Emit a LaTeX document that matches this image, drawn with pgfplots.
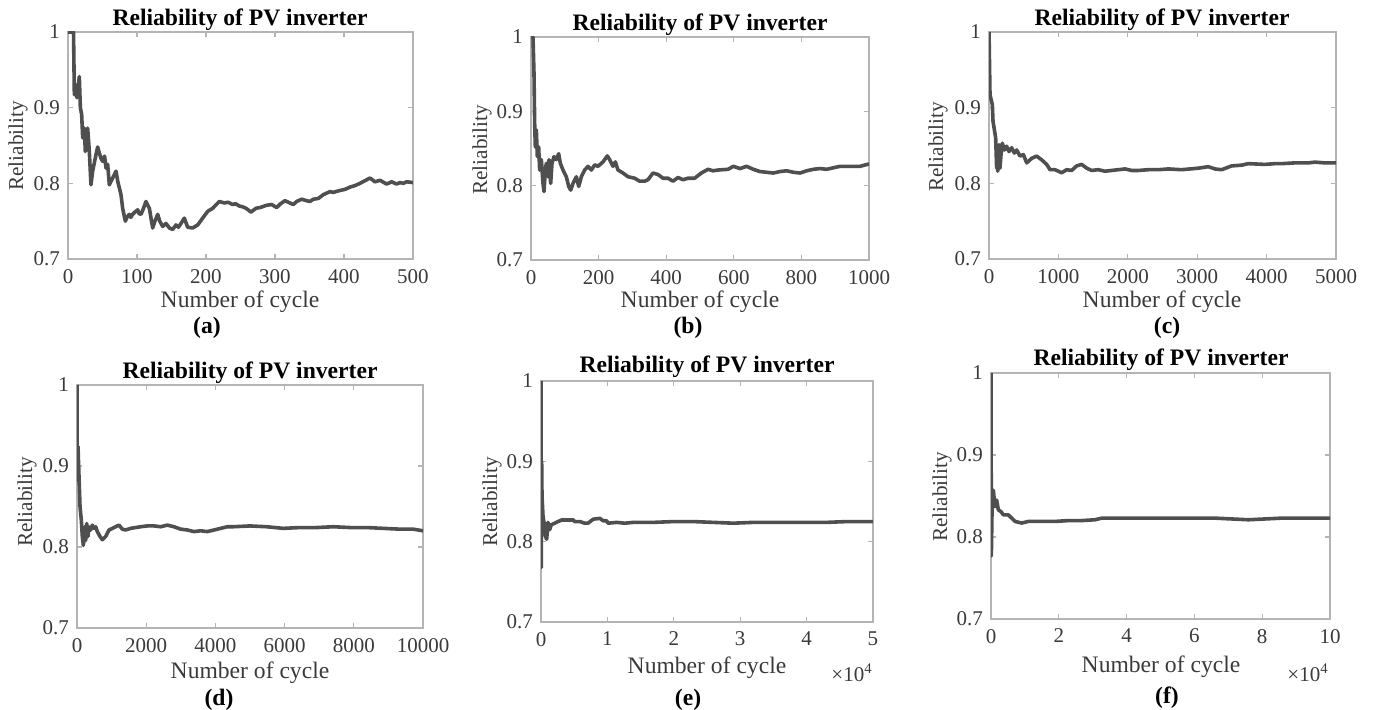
\documentclass[border=0pt]{standalone}
\usepackage{fontspec}
\setmainfont{Liberation Serif}
\usepackage{pgfplots}
\pgfplotsset{compat=1.18}

\definecolor{linegray}{HTML}{4F4F4F}
\definecolor{boxgray}{HTML}{B4B4B4}
\definecolor{labgray}{HTML}{3A3A3A}

\newcommand{\ticksize}{\fontsize{10.5}{11}\selectfont}
\newcommand{\labsize}{\fontsize{11.8}{12}\selectfont}

\pgfplotsset{
  rel/.style={
    scale only axis, anchor=south west,
    xmin=0, ymin=0.7, ymax=1, scaled x ticks=false,
    ytick={0.7,0.8,0.9,1}, yticklabels={0.7,0.8,0.9,1},
    axis line style={draw=boxgray, line width=0.7pt},
    tick style={draw=boxgray, line width=0.6pt},
    tick align=inside, tick pos=both, major tick length=2.5pt,
    ticklabel style={font=\ticksize, text=labgray},
    xticklabel style={yshift=-1.5pt},
    yticklabel style={xshift=-0.5pt},
    every axis plot post/.append style={line width=1.8pt, color=linegray, line join=round, mark=none},
  },
}

\begin{document}
\begin{tikzpicture}
\path[use as bounding box] (0pt,0pt) rectangle (687.5pt,355pt);

% (a) 0..500
\begin{axis}[rel, at={(34pt,225.5pt)}, width=172.5pt, height=113.5pt,
  xmax=500, xtick={0,100,...,500}, xticklabels={0,100,200,300,400,500}]
\addplot coordinates {
(0,1.000)(2,1.000)(8,1.000)(9.2,0.917)(11.6,0.930)(13.0,0.913)(16.4,0.941)
(17.9,0.900)(19.8,0.891)(21.3,0.860)(23.7,0.873)(25.1,0.842)(27.1,0.856)
(28.5,0.873)(30.9,0.842)(33.3,0.798)(35.7,0.816)(40.6,0.838)(43,0.848)(45.4,0.840)
(47.8,0.833)(50.2,0.829)(53,0.836)(55.1,0.820)(57.5,0.825)(59.9,0.798)(64.7,0.807)
(69.6,0.816)(72.0,0.803)(76.8,0.785)(79.2,0.767)(83.1,0.750)(86,0.756)(88.9,0.759)
(91,0.755)(93.7,0.759)(97,0.762)(101.0,0.765)(103,0.760)(105.8,0.759)(109,0.766)
(113.0,0.776)(117.9,0.767)(122.7,0.741)(126,0.750)(130.0,0.759)(133,0.750)
(137.2,0.743)(142.0,0.747)(146.9,0.741)(151.7,0.739)(156.5,0.745)(160,0.742)
(163.8,0.747)(168.6,0.754)(173.4,0.742)(180.7,0.741)(188.0,0.745)(195.2,0.754)
(202.5,0.763)(209.7,0.767)(219.3,0.776)(226.6,0.774)(232,0.775)(238.6,0.772)
(243,0.773)(248.3,0.770)(253,0.769)(258.0,0.767)(265.2,0.762)(272.5,0.767)
(278.3,0.768)(288,0.771)(295.2,0.772)(302.4,0.768)(308,0.773)(314.5,0.777)
(321.7,0.774)(326.6,0.772)(331.4,0.776)(338.6,0.779)(345.9,0.777)(350.7,0.776)
(355.6,0.779)(362.8,0.780)(370,0.785)(379.7,0.789)(384.5,0.788)(391.8,0.790)
(401.4,0.792)(408.7,0.795)(416,0.797)(423.2,0.800)(437.7,0.807)(444.9,0.802)
(452.2,0.804)(461.8,0.799)(469.1,0.802)(476.3,0.799)(481.2,0.801)(486,0.800)
(490.8,0.802)(500,0.801)};
\end{axis}

% (b) 0..1000
\begin{axis}[rel, at={(265.5pt,225pt)}, width=169pt, height=111.5pt,
  xmax=1000, xtick={0,200,...,1000}, xticklabels={0,200,400,600,800,1000}]
\addplot coordinates {
(0,1.000)(5.9,1.000)(8.9,0.950)(10.8,0.884)(12.8,0.852)(15.8,0.875)(18.7,0.839)
(22.7,0.852)(25.6,0.821)(30.6,0.835)(35.5,0.803)(38.5,0.792)(42.4,0.821)
(45.4,0.830)(50.3,0.812)(53.3,0.835)(58.2,0.803)(62.1,0.830)(68.0,0.839)
(75.0,0.835)(81.9,0.843)(86.8,0.830)(94.7,0.821)(104.5,0.812)(111.5,0.799)
(117.4,0.794)(124.3,0.803)(134.2,0.812)(141.1,0.799)(149,0.812)(158.8,0.821)
(168.6,0.826)(178.5,0.821)(188.4,0.828)(198.2,0.826)(213,0.832)(225.8,0.840)
(232.7,0.835)(242.6,0.826)(249.5,0.832)(257.4,0.821)(272.2,0.817)(287,0.812)
(306.7,0.810)(321.5,0.806)(336.3,0.806)(346.2,0.808)(361,0.817)(375.7,0.815)
(390.5,0.810)(405.3,0.810)(420.1,0.806)(434.9,0.811)(449.7,0.808)(464.5,0.810)
(484.2,0.810)(503.9,0.817)(523.7,0.822)(538.5,0.820)(553.3,0.821)(582.8,0.822)
(598.7,0.826)(618.4,0.823)(638.1,0.826)(657.8,0.822)(677.5,0.819)(697.2,0.818)
(717,0.817)(736.7,0.819)(756.4,0.820)(776.1,0.818)(795.9,0.817)(815.6,0.820)
(835.3,0.822)(855,0.823)(874.8,0.822)(894.5,0.824)(914.2,0.826)(933.9,0.826)
(953.7,0.826)(973.4,0.826)(998,0.829)(1000,0.829)};
\end{axis}

% (c) 0..5000
\begin{axis}[rel, at={(494.5pt,225.5pt)}, width=173.5pt, height=113.5pt,
  xmax=5000, xtick={0,1000,...,5000}, xticklabels={0,1000,2000,3000,4000,5000}]
\addplot coordinates {
(0,1.000)(14.4,0.917)(48,0.904)(57.6,0.882)(96,0.860)(110,0.820)(115,0.847)
(125,0.816)(144,0.851)(158,0.820)(173,0.838)(192,0.853)(221,0.844)(254,0.849)
(288,0.842)(327,0.847)(365,0.840)(399,0.844)(447,0.836)(495,0.838)(543,0.827)
(615,0.833)(687,0.836)(759,0.831)(831,0.825)(879,0.818)(951,0.818)(1047,0.814)
(1119,0.818)(1191,0.817)(1263,0.823)(1335,0.825)(1407,0.820)(1479,0.817)
(1575,0.818)(1671,0.816)(1767,0.817)(1863,0.818)(1960,0.819)(2056,0.817)
(2152,0.817)(2296,0.818)(2440,0.818)(2584,0.819)(2776,0.818)(3016,0.820)
(3160,0.822)(3256,0.819)(3352,0.818)(3496,0.823)(3640,0.824)(3736,0.826)
(3977,0.825)(4121,0.826)(4217,0.826)(4409,0.827)(4601,0.827)(4697,0.828)
(4841,0.827)(5000,0.827)};
\end{axis}

% (d) 0..10000
\begin{axis}[rel, at={(38.5pt,41pt)}, width=173pt, height=121.5pt,
  xmax=10000, xtick={0,2000,...,10000}, xticklabels={0,2000,4000,6000,8000,10000}]
\addplot coordinates {
(0,1.000)(5,0.883)(29,0.924)(58,0.887)(87,0.850)(125,0.833)(154,0.813)(183,0.802)
(222,0.825)(250,0.808)(280,0.829)(318,0.813)(347,0.825)(395,0.821)(443,0.827)
(491,0.823)(540,0.825)(588,0.819)(665,0.813)(732,0.809)(829,0.813)(925,0.821)
(1021,0.823)(1118,0.825)(1214,0.827)(1310,0.822)(1407,0.821)(1551,0.823)
(1696,0.824)(1840,0.825)(2033,0.826)(2225,0.826)(2418,0.825)(2611,0.827)
(2803,0.825)(2996,0.822)(3189,0.821)(3382,0.819)(3574,0.820)(3767,0.819)
(3960,0.821)(4152,0.823)(4345,0.825)(4518,0.825)(5000,0.826)(5482,0.825)
(5963,0.823)(6445,0.824)(6927,0.824)(7408,0.825)(7890,0.824)(8372,0.824)
(8854,0.823)(9335,0.822)(9720,0.822)(10000,0.820)};
\end{axis}

% (e) 0..50000
\begin{axis}[rel, at={(270.5pt,44pt)}, width=166pt, height=120.5pt,
  xmax=50000, xtick={0,10000,...,50000}, xticklabels={0,1,2,3,4,5}]
\addplot coordinates {
(0,1.000)(50,0.768)(100,0.900)(151,0.857)(301,0.832)(452,0.824)(653,0.807)
(853,0.803)(1054,0.824)(1305,0.815)(1556,0.821)(2058,0.823)(2560,0.825)
(2861,0.826)(3062,0.827)(3564,0.827)(4317,0.827)(4869,0.827)(5070,0.825)
(5873,0.825)(6576,0.823)(6877,0.823)(7078,0.823)(7881,0.828)(8886,0.829)
(9337,0.826)(9890,0.826)(10090,0.823)(11396,0.824)(12600,0.823)(13906,0.824)
(16918,0.824)(19930,0.825)(22942,0.825)(25954,0.824)(28966,0.823)(31978,0.824)
(35492,0.824)(39006,0.824)(43022,0.824)(46034,0.825)(50000,0.825)};
\end{axis}

% (f) 0..100000
\begin{axis}[rel, at={(495.5pt,45.5pt)}, width=169.5pt, height=123pt,
  xmax=100000, xtick={0,20000,...,100000}, xticklabels={0,2,4,6,8,10}]
\addplot coordinates {
(0,1.000)(100,0.777)(393,0.857)(688,0.857)(1180,0.837)(1671,0.845)(2163,0.833)
(2950,0.831)(3638,0.827)(5113,0.827)(7080,0.819)(9046,0.817)(11013,0.819)
(14946,0.819)(18879,0.819)(22812,0.820)(26745,0.820)(30678,0.821)(32645,0.823)
(36578,0.823)(46411,0.823)(56244,0.823)(66077,0.823)(70993,0.822)(75910,0.821)
(80826,0.822)(85742,0.823)(90659,0.823)(100000,0.823)};
\end{axis}

% titles
\foreach \x/\y in {120/345, 350/342.5, 581/345, 125/168.5, 353.5/171.5, 580.5/175}
  \node[font=\bfseries\labsize] at (\x pt,\y pt) {Reliability of PV inverter};
% x labels
\foreach \x/\y in {120/204, 350/204, 581/204, 125/18.5, 353.5/21, 580.5/21.5}
  \node[font=\labsize, text=labgray] at (\x pt,\y pt) {Number of cycle};
% y labels
\foreach \x/\y in {9/282, 241/280, 469/281.5, 13.5/104, 246/104, 471/106.5}
  \node[font=\fontsize{10.6}{11}\selectfont, text=labgray, rotate=90] at (\x pt,\y pt) {Reliability};
% multipliers
\node[font=\ticksize, text=labgray] at (426pt,18.5pt) {×10\textsuperscript{4}};
\node[font=\ticksize, text=labgray] at (654pt,18.5pt) {×10\textsuperscript{4}};
% captions
\foreach \x/\y/\t in {103.5/191/a, 344/191/b, 583.5/191/c, 109.5/5/d, 344/5/e, 583.5/6/f}
  \node[font=\bfseries\labsize] at (\x pt,\y pt) {(\t)};
\end{tikzpicture}
\end{document}
